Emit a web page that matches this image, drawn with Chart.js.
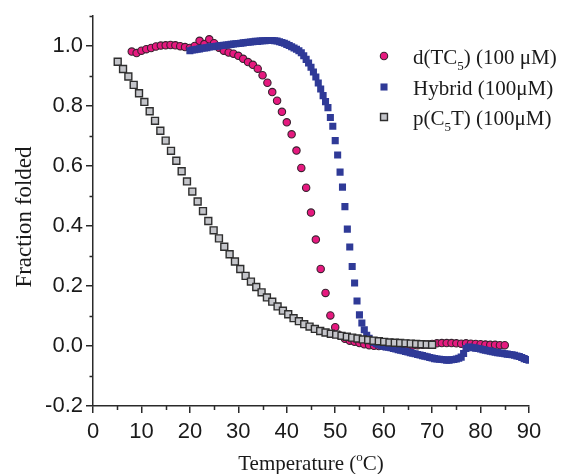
<!DOCTYPE html>
<html>
<head>
<meta charset="utf-8">
<script src="https://cdn.jsdelivr.net/npm/chart.js@4.4.1/dist/chart.umd.min.js"></script>
<style>
  body { margin: 0; background: #fff; }
</style>
</head>
<body>
<canvas id="meltChart" width="563" height="474"></canvas>
<script>
// d(TC5) (100 uM) - pink circles
const tempTC5 = [8, 9, 10, 11, 12, 13, 14, 15, 16, 17,
  18, 19, 20, 21, 22, 23, 24, 25, 26, 27,
  28, 29, 30, 31, 32, 33, 34, 35, 36, 37,
  38, 39, 40, 41, 42, 43, 44, 45, 46, 47,
  48, 49, 50, 51, 52, 53, 54, 55, 56, 57,
  58, 59, 60, 61, 62, 63, 64, 65, 66, 67,
  68, 69, 70, 71, 72, 73, 74, 75, 76, 77,
  78, 79, 80, 81, 82, 83, 84, 85];
const foldedTC5 = [0.982, 0.977, 0.985, 0.990, 0.994, 0.999, 1.002, 1.003, 1.004, 1.003,
  1.000, 0.997, 0.994, 1.001, 1.018, 1.007, 1.023, 1.010, 0.995, 0.985,
  0.979, 0.975, 0.968, 0.958, 0.947, 0.938, 0.925, 0.903, 0.878, 0.847,
  0.818, 0.781, 0.746, 0.706, 0.652, 0.594, 0.528, 0.445, 0.355, 0.257,
  0.177, 0.102, 0.063, 0.035, 0.024, 0.018, 0.014, 0.010, 0.006, 0.003,
  0.001, 0.000, 0.000, -0.001, 0.000, 0.000, 0.001, 0.001, 0.002, 0.003,
  0.004, 0.005, 0.007, 0.009, 0.010, 0.010, 0.010, 0.009, 0.008, 0.009,
  0.008, 0.007, 0.006, 0.005, 0.004, 0.004, 0.003, 0.003];

// Hybrid (100 uM) - blue squares
const tempHybrid = [20.0, 20.5, 21.0, 21.5, 22.0, 22.5, 23.0, 23.5, 24.0, 24.5,
  25.0, 25.5, 26.0, 26.5, 27.0, 27.5, 28.0, 28.5, 29.0, 29.5,
  30.0, 30.5, 31.0, 31.5, 32.0, 32.5, 33.0, 33.5, 34.0, 34.5,
  35.0, 35.5, 36.0, 36.5, 37.0, 37.5, 38.0, 38.5, 39.0, 39.5,
  40.0, 40.5, 41.0, 41.5, 42.0, 42.5, 43.0, 43.5, 44.0, 44.5,
  45.0, 45.5, 46.0, 46.5, 47.0, 47.5, 48.0, 48.5, 49.0, 49.5,
  50.0, 50.5, 51.0, 51.5, 52.0, 52.5, 53.0, 53.5, 54.0, 54.5,
  55.0, 55.5, 56.0, 56.5, 57.0, 57.5, 58.0, 58.5, 59.0, 59.5,
  60.0, 60.5, 61.0, 61.5, 62.0, 62.5, 63.0, 63.5, 64.0, 64.5,
  65.0, 65.5, 66.0, 66.5, 67.0, 67.5, 68.0, 68.5, 69.0, 69.5,
  70.0, 70.5, 71.0, 71.5, 72.0, 72.5, 73.0, 73.5, 74.0, 74.5,
  75.0, 75.5, 76.0, 76.5, 77.0, 77.5, 78.0, 78.5, 79.0, 79.5,
  80.0, 80.5, 81.0, 81.5, 82.0, 82.5, 83.0, 83.5, 84.0, 84.5,
  85.0, 85.5, 86.0, 86.5, 87.0, 87.5, 88.0, 88.5, 89.0, 89.5,
  90.0];
const foldedHybrid = [0.985, 0.987, 0.988, 0.990, 0.991, 0.993, 0.994, 0.995, 0.997, 0.998,
  0.999, 1.000, 1.001, 1.002, 1.003, 1.004, 1.005, 1.006, 1.007, 1.008,
  1.009, 1.010, 1.011, 1.012, 1.013, 1.014, 1.015, 1.016, 1.016, 1.017,
  1.018, 1.018, 1.019, 1.019, 1.019, 1.018, 1.017, 1.015, 1.012, 1.010,
  1.006, 1.002, 0.998, 0.994, 0.990, 0.985, 0.978, 0.968, 0.956, 0.944,
  0.930, 0.914, 0.897, 0.877, 0.857, 0.835, 0.815, 0.795, 0.762, 0.733,
  0.685, 0.637, 0.580, 0.530, 0.465, 0.390, 0.330, 0.265, 0.210, 0.150,
  0.104, 0.077, 0.054, 0.036, 0.026, 0.018, 0.012, 0.008, 0.004, 0.001,
  -0.001, -0.003, -0.004, -0.006, -0.008, -0.010, -0.012, -0.014, -0.016, -0.018,
  -0.020, -0.022, -0.024, -0.026, -0.028, -0.030, -0.032, -0.034, -0.036, -0.038,
  -0.040, -0.042, -0.043, -0.044, -0.045, -0.046, -0.047, -0.047, -0.046, -0.045,
  -0.043, -0.041, -0.037, -0.025, -0.008, -0.003, -0.004, -0.006, -0.007, -0.008,
  -0.010, -0.012, -0.014, -0.016, -0.017, -0.019, -0.021, -0.022, -0.023, -0.024,
  -0.026, -0.027, -0.028, -0.029, -0.031, -0.033, -0.035, -0.038, -0.042, -0.045,
  -0.047];

// p(C5T) (100 uM) - grey squares
const tempC5T = [5.1, 6.2, 7.3, 8.4, 9.5, 10.6, 11.7, 12.8, 13.9, 15.0,
  16.1, 17.2, 18.3, 19.4, 20.5, 21.6, 22.7, 23.8, 24.9, 26.0,
  27.1, 28.2, 29.3, 30.4, 31.5, 32.6, 33.7, 34.8, 35.9, 37.0,
  38.1, 39.2, 40.3, 41.4, 42.5, 43.6, 44.7, 45.8, 46.9, 48.0,
  49.1, 50.2, 51.3, 52.4, 53.5, 54.6, 55.7, 56.8, 57.9, 59.0,
  60.1, 61.2, 62.3, 63.4, 64.5, 65.6, 66.7, 67.8, 68.9, 70.0];
const foldedC5T = [0.948, 0.924, 0.899, 0.871, 0.843, 0.814, 0.783, 0.751, 0.718, 0.685,
  0.651, 0.618, 0.583, 0.549, 0.515, 0.482, 0.450, 0.417, 0.386, 0.359,
  0.331, 0.306, 0.282, 0.257, 0.234, 0.215, 0.197, 0.179, 0.162, 0.148,
  0.132, 0.118, 0.106, 0.093, 0.083, 0.073, 0.065, 0.057, 0.050, 0.045,
  0.041, 0.038, 0.034, 0.031, 0.028, 0.025, 0.022, 0.020, 0.018, 0.016,
  0.014, 0.012, 0.011, 0.010, 0.009, 0.008, 0.007, 0.006, 0.005, 0.004];

const xTicks = [0, 10, 20, 30, 40, 50, 60, 70, 80, 90];
const xMinorTicks = [5, 15, 25, 35, 45, 55, 65, 75, 85];
const yTicks = [-0.2, 0.0, 0.2, 0.4, 0.6, 0.8, 1.0];
const yMinorTicks = [-0.1, 0.1, 0.3, 0.5, 0.7, 0.9, 1.1];

const legendLabels = [
  [['d(TC', ''], ['5', 'sub'], [') (100 \u03bcM)', '']],
  [['Hybrid (100\u03bcM)', '']],
  [['p(C', ''], ['5', 'sub'], ['T) (100\u03bcM)', '']]
];
const xTitle = [['Temperature (', ''], ['o', 'sup'], ['C)', '']];
const yTitle = 'Fraction folded';

const axisColor = '#2a2a2a';
const serif = '"Liberation Serif", "Times New Roman", serif';

const pinkStyle = { pointStyle: 'circle', radius: 3.7, backgroundColor: '#e6197f', borderColor: '#3a2230', borderWidth: 1.1 };
const blueStyle = { pointStyle: 'rect', radius: 5, backgroundColor: '#2f3a97', borderColor: '#2f3a97', borderWidth: 0 };
const greyStyle = { pointStyle: 'rect', radius: 4.9, backgroundColor: '#c4c5ca', borderColor: '#2e2e2e', borderWidth: 1.4 };

function toPoints(xs, ys) {
  return xs.map((x, i) => ({ x: x, y: ys[i] }));
}

// text with sub/superscript pieces
function richWidth(ctx, parts, size) {
  let w = 0;
  parts.forEach(([txt, kind]) => {
    ctx.font = (kind ? size * 0.62 : size) + 'px ' + serif;
    w += ctx.measureText(txt).width;
  });
  return w;
}
function drawRich(ctx, parts, x, y, size) {
  parts.forEach(([txt, kind]) => {
    const s = kind ? size * 0.62 : size;
    const dy = kind === 'sub' ? size * 0.3 : kind === 'sup' ? -size * 0.42 : 0;
    ctx.font = s + 'px ' + serif;
    ctx.fillText(txt, x, y + dy);
    x += ctx.measureText(txt).width;
  });
}

const extras = {
  id: 'extras',
  afterDraw(chart) {
    const ctx = chart.ctx;
    const area = chart.chartArea;
    const xs = chart.scales.x, ys = chart.scales.y;
    ctx.save();

    // minor ticks
    ctx.strokeStyle = axisColor;
    ctx.lineWidth = 1.5;
    ctx.beginPath();
    xMinorTicks.forEach(v => {
      const px = Math.round(xs.getPixelForValue(v)) + 0.5;
      ctx.moveTo(px, area.bottom);
      ctx.lineTo(px, area.bottom + 4);
    });
    yMinorTicks.forEach(v => {
      const py = Math.round(ys.getPixelForValue(v)) + 0.5;
      ctx.moveTo(area.left - 3.5, py);
      ctx.lineTo(area.left, py);
    });
    ctx.stroke();

    // axis titles
    ctx.fillStyle = '#1a1a1a';
    ctx.textBaseline = 'alphabetic';
    ctx.textAlign = 'left';
    const tw = richWidth(ctx, xTitle, 21);
    drawRich(ctx, xTitle, (area.left + area.right) / 2 - tw / 2, 470, 21);

    ctx.save();
    ctx.translate(31, 217);
    ctx.rotate(-Math.PI / 2);
    ctx.font = '23px ' + serif;
    ctx.textAlign = 'center';
    ctx.fillText(yTitle, 0, 0);
    ctx.restore();

    // legend
    const styles = [pinkStyle, blueStyle, greyStyle];
    const rowY = [56, 87, 117];
    styles.forEach((st, i) => {
      ctx.fillStyle = st.backgroundColor;
      ctx.strokeStyle = st.borderColor;
      ctx.lineWidth = st.borderWidth;
      Chart.helpers.drawPoint(ctx, { pointStyle: st.pointStyle, radius: st.radius, borderWidth: st.borderWidth, rotation: 0 }, 384, rowY[i]);
      ctx.fillStyle = '#1a1a1a';
      ctx.textAlign = 'left';
      drawRich(ctx, legendLabels[i], 413, rowY[i] + 8, 21);
    });
    ctx.restore();
  }
};

const tickFont = { family: '"Liberation Sans", Arial, sans-serif', size: 22 };

new Chart(document.getElementById('meltChart'), {
  type: 'scatter',
  data: {
    datasets: [
      {
        label: 'd(TC5) (100 \u03bcM)',
        data: toPoints(tempTC5, foldedTC5),
        pointStyle: pinkStyle.pointStyle,
        pointRadius: pinkStyle.radius,
        backgroundColor: pinkStyle.backgroundColor,
        borderColor: pinkStyle.borderColor,
        borderWidth: pinkStyle.borderWidth,
        order: 3
      },
      {
        label: 'Hybrid (100\u03bcM)',
        data: toPoints(tempHybrid, foldedHybrid),
        pointStyle: blueStyle.pointStyle,
        pointRadius: blueStyle.radius,
        backgroundColor: blueStyle.backgroundColor,
        borderColor: blueStyle.borderColor,
        borderWidth: blueStyle.borderWidth,
        order: 2
      },
      {
        label: 'p(C5T) (100\u03bcM)',
        data: toPoints(tempC5T, foldedC5T),
        pointStyle: greyStyle.pointStyle,
        pointRadius: greyStyle.radius,
        backgroundColor: greyStyle.backgroundColor,
        borderColor: greyStyle.borderColor,
        borderWidth: greyStyle.borderWidth,
        order: 1
      }
    ]
  },
  options: {
    responsive: false,
    animation: false,
    layout: { padding: { left: 0, top: 12, right: 34, bottom: 0 } },
    plugins: {
      legend: { display: false },
      tooltip: { enabled: false }
    },
    scales: {
      x: {
        type: 'linear',
        min: 0,
        max: 90,
        afterBuildTicks: s => { s.ticks = xTicks.map(v => ({ value: v })); },
        afterFit: s => { s.height = 68; },
        ticks: { font: tickFont, color: '#1a1a1a', padding: 6, maxRotation: 0, autoSkip: false, callback: v => String(v) },
        grid: { drawOnChartArea: false, tickLength: 7, color: axisColor, lineWidth: 1.5 },
        border: { color: axisColor, width: 1.5 }
      },
      y: {
        type: 'linear',
        min: -0.2,
        max: 1.1,
        afterBuildTicks: s => { s.ticks = yTicks.map(v => ({ value: v })); },
        afterFit: s => { s.width = 93; },
        ticks: { font: tickFont, color: '#1a1a1a', padding: 3, autoSkip: false, callback: v => v.toFixed(1) },
        grid: { drawOnChartArea: false, tickLength: 7, color: axisColor, lineWidth: 1.5 },
        border: { color: axisColor, width: 1.5 }
      }
    }
  },
  plugins: [extras]
});
</script>
</body>
</html>
